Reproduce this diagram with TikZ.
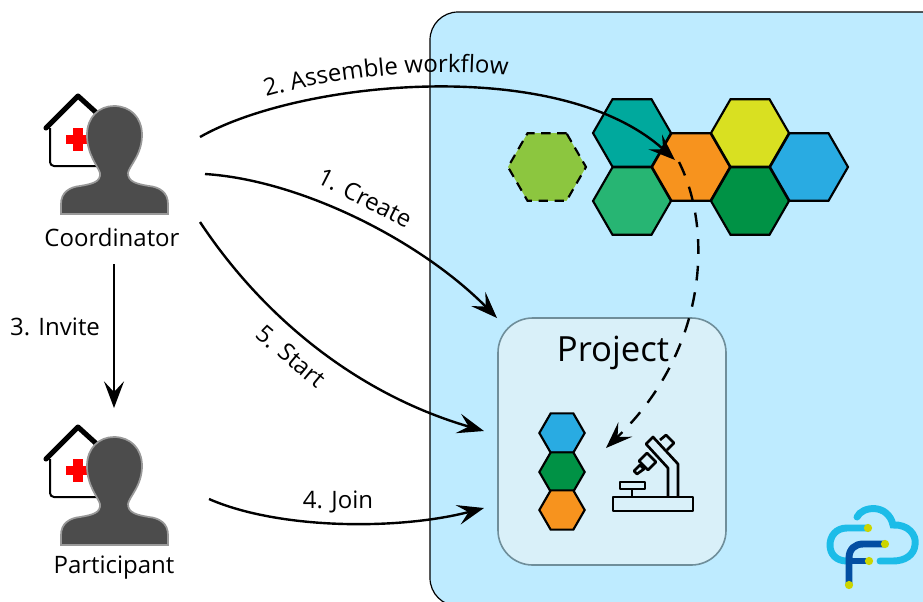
\documentclass[tikz,border=0pt]{standalone}
\usepackage{fontspec}
\setmainfont{Open Sans}
\usetikzlibrary{arrows.meta,shapes.geometric,decorations.text}
\definecolor{panelblue}{HTML}{BEEBFF}
\definecolor{projectblue}{HTML}{D9F0F9}
\definecolor{projectedge}{HTML}{6F8E9A}
\definecolor{hexteal}{HTML}{00A99D}
\definecolor{hexgreen}{HTML}{27B573}
\definecolor{hexorange}{HTML}{F7931E}
\definecolor{hexyellow}{HTML}{D9E021}
\definecolor{hexdark}{HTML}{009245}
\definecolor{hexblue}{HTML}{29ABE2}
\definecolor{hexlime}{HTML}{8CC63F}
\definecolor{logocloud}{HTML}{1CBCE8}
\definecolor{logoletter}{HTML}{034EA2}
\definecolor{logodot}{HTML}{CCD500}
\tikzset{
    hexcell/.style={regular polygon,regular polygon sides=6,draw=black,line width=1.6pt,inner sep=0pt,outer sep=0pt,minimum size=58.5pt},
    smallhex/.style={hexcell,minimum size=34pt},
    flow/.style={line width=1.8pt,-{Stealth[length=20pt,width=15pt,inset=8pt]}},
    steplabel/.style={font=\fontsize{18}{20}\selectfont,inner sep=0pt},
    pics/carer/.style={code={
        \draw[line width=1.5pt,rounded corners=3pt] (50,128)--(50,166)--(100,166);
        \draw[line width=3.8pt,line cap=round,line join=round] (46,128)--(78,96)--(100,116);
        \fill[red] (73,128) rectangle (83,151);
        \fill[red] (66,135) rectangle (92,144);
        \draw[fill=black!70,draw=black!40,line width=1.3pt] (61,214)--(61,204) .. controls (61,192) and (70,187) .. (80,186) .. controls (92,184) and (101,182) .. (100,173) .. controls (98,166) and (87,155) .. (87,135) .. controls (87,117) and (99,106) .. (114,106) .. controls (130,106) and (142,117) .. (142,135) .. controls (142,155) and (129,166) .. (128,173) .. controls (128,182) and (137,184) .. (149,186) .. controls (159,187) and (168,192) .. (168,204)--(168,214)--cycle;
    }}
}
\begin{document}
\begin{tikzpicture}[x=.75pt,y=-.75pt]
    \useasboundingbox (0,0) rectangle (923,601);
    \draw[fill=panelblue,line width=.9pt,rounded corners=21pt] (430,12) rectangle (965,606);
    \draw[fill=projectblue,draw=projectedge,line width=1.2pt,rounded corners=26pt] (498,318) rectangle (726,565);
    \node[font=\fontsize{26}{28}\selectfont,inner sep=0pt] (project) at (613,353) {Project};

    \node[hexcell,fill=hexteal] (teal) at (632,133) {};
    \node[hexcell,fill=hexgreen] (green) at (632,201) {};
    \node[hexcell,fill=hexorange] (orange) at (691,167) {};
    \node[hexcell,fill=hexyellow] (yellow) at (750,133) {};
    \node[hexcell,fill=hexdark] (dark) at (750,201) {};
    \node[hexcell,fill=hexblue] (blue) at (809,167) {};
    \node[hexcell,fill=hexlime,dashed,dash pattern=on 7pt off 5pt] (lime) at (547,167) {};
    \node[smallhex,fill=hexblue] (stepa) at (562,433) {};
    \node[smallhex,fill=hexdark] (stepb) at (562,472) {};
    \node[smallhex,fill=hexorange] (stepc) at (562,510) {};

    % microscope
    \begin{scope}[line width=2pt,line join=round]
        \draw (613,497) rectangle (693,511);
        \draw (620,482) rectangle (645,489);
        \draw (632,489)--(632,497);
        \draw (668,497)--(668,468)--(646,444)--(653,437)--(678,464)--(678,497);
        \draw (660,440)--(666,435)--(674,443)--(667,450);
        \draw (639,461)--(647,453)--(656,462)--(648,470)--cycle;
        \draw (634,471)--(640,465)--(644,469)--(637,474)--cycle;
    \end{scope}

    % logo
    \draw[logocloud,line width=5.2pt,line cap=round] (857,517) .. controls (862,506) and (888,503) .. (893,525) .. controls (908,524) and (917,535) .. (915,545) .. controls (914,555) and (905,561) .. (893,561)--(880,561);
    \draw[logocloud,line width=5.2pt,line cap=round] (868,528)--(847,528) .. controls (836,528) and (830,536) .. (830,545) .. controls (830,554) and (836,561) .. (847,561);
    \draw[logoletter,line width=5.2pt] (849,585)--(849,558) .. controls (849,549) and (855,544) .. (863,544)--(885,544);
    \draw[logoletter,line width=5.2pt] (849,561)--(869,561);
    \foreach \dotx/\doty in {868/528,885/544,869/561,849/585}
        \fill[logodot] (\dotx,\doty) circle[radius=3.1pt];

    \pic at (0,0) {carer};
    \pic at (0,331) {carer};
    \node[steplabel] (coordinator) at (112,237) {Coordinator};
    \node[steplabel] (participant) at (114,568) {Participant};

    \coordinate (assemblefrom) at (200,137);
    \coordinate (assembleto) at (675,160);
    \coordinate (createfrom) at (205,174);
    \coordinate (createto) at (497,318);
    \coordinate (startfrom) at (200,222);
    \coordinate (startto) at (484,431);
    \coordinate (joinfrom) at (209,499);
    \coordinate (jointo) at (484,508);
    \coordinate (invitefrom) at (114,264);
    \coordinate (inviteto) at (114,408);
    \coordinate (dashfrom) at (679,162);
    \coordinate (dashto) at (606,448);

    \draw[flow] (assemblefrom) .. controls (300,80) and (560,55) .. (assembleto);
    \draw[flow] (createfrom) .. controls (300,180) and (420,240) .. (createto);
    \draw[flow] (startfrom) .. controls (265,320) and (360,395) .. (startto);
    \draw[flow] (joinfrom) .. controls (280,530) and (400,530) .. (jointo);
    \draw[flow] (invitefrom)--(inviteto);
    \draw[flow,dash pattern=on 11pt off 9pt] (dashfrom) .. controls (713,230) and (708,350) .. (dashto);

    \path[decorate,decoration={text along path,text align=center,text={|\fontsize{18}{20}\selectfont|2. Assemble workflow}}] (262,98) .. controls (330,78) and (430,66) .. (512,76);
    \node[steplabel,rotate=-27] (stepcreate) at (365,198) {1. Create};
    \node[steplabel,rotate=-40] (stepstart) at (291,356) {5. Start};
    \node[steplabel] (stepinvite) at (55,327) {3. Invite};
    \node[steplabel] (stepjoin) at (338,502) {4. Join};
\end{tikzpicture}
\end{document}
